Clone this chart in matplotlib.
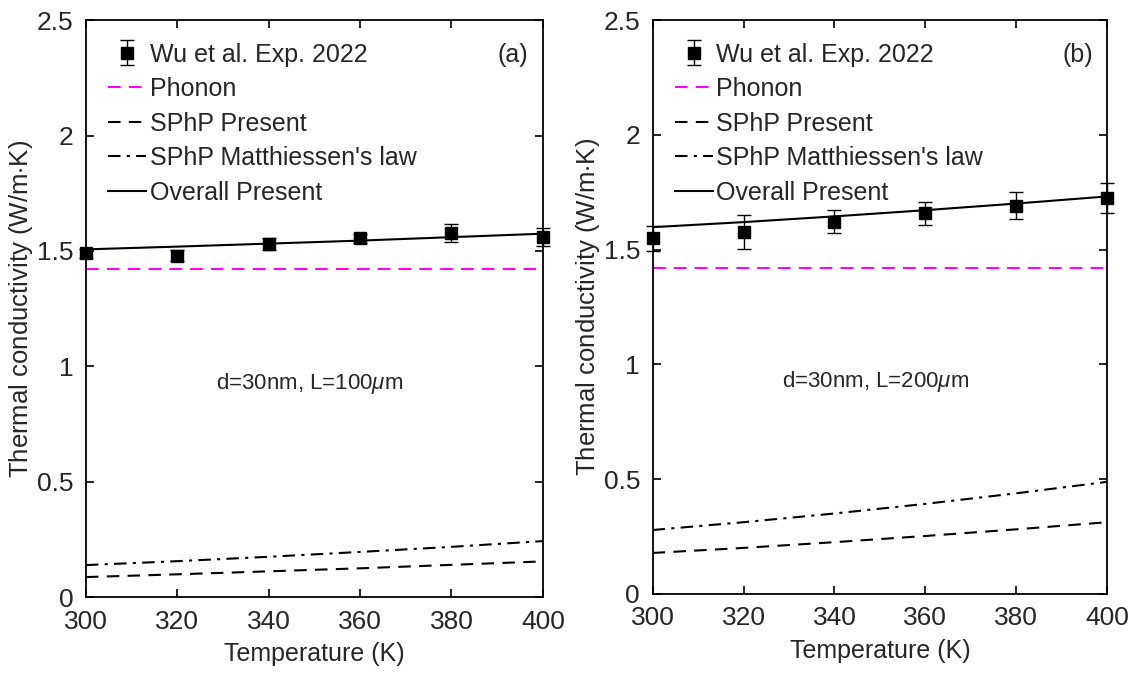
import matplotlib
matplotlib.use("Agg")
import matplotlib.pyplot as plt

plt.rcParams['font.family'] = ['Liberation Sans', 'DejaVu Sans']
plt.rcParams['mathtext.fontset'] = 'custom'
plt.rcParams['mathtext.it'] = 'Liberation Sans:italic'
plt.rcParams['mathtext.rm'] = 'Liberation Sans'

# temperature grid (K)
T = [300, 320, 340, 360, 380, 400]

# (a) d=30nm, L=100um
exp_a = [1.49, 1.48, 1.53, 1.555, 1.577, 1.56]
err_a = [0.02, 0.025, 0.025, 0.02, 0.04, 0.04]
phonon_a = [1.42] * 6
sphp_a = [0.087, 0.099, 0.112, 0.125, 0.140, 0.155]
matth_a = [0.139, 0.156, 0.175, 0.196, 0.218, 0.243]
overall_a = [1.507, 1.519, 1.532, 1.545, 1.560, 1.575]

# (b) d=30nm, L=200um
exp_b = [1.55, 1.577, 1.622, 1.659, 1.692, 1.725]
err_b = [0.055, 0.072, 0.05, 0.05, 0.06, 0.065]
phonon_b = [1.42] * 6
sphp_b = [0.178, 0.200, 0.225, 0.252, 0.281, 0.312]
matth_b = [0.278, 0.312, 0.350, 0.392, 0.438, 0.488]
overall_b = [1.598, 1.620, 1.645, 1.672, 1.701, 1.732]

txt = '#262626'

fig = plt.figure(figsize=(11.31, 6.74), dpi=100)
ax1 = fig.add_axes([0.076, 0.114, 0.404, 0.856])
ax2 = fig.add_axes([0.577, 0.119, 0.402, 0.851])

panels = [
    (ax1, exp_a, err_a, phonon_a, sphp_a, matth_a, overall_a, '(a)', r'd=30nm, L=100$\mu$m'),
    (ax2, exp_b, err_b, phonon_b, sphp_b, matth_b, overall_b, '(b)', r'd=30nm, L=200$\mu$m'),
]

for ax, ex, er, ph, sp, mt, ov, tag, note in panels:
    eb = ax.errorbar(T, ex, yerr=er, fmt='s', color='k', ms=9, capsize=5,
                     elinewidth=1, capthick=1, label='Wu et al. Exp. 2022',
                     zorder=5, clip_on=False)
    for art in eb.lines[1] + eb.lines[2]:
        art.set_clip_on(False)
    ax.plot(T, ph, color='magenta', ls=(0, (6, 4)), lw=1.5, label='Phonon')
    ax.plot(T, sp, color='k', ls=(0, (6, 4)), lw=1.5, label='SPhP Present')
    ax.plot(T, mt, color='k', ls=(0, (6, 3, 1.5, 3)), lw=1.5, label="SPhP Matthiessen's law")
    ax.plot(T, ov, color='k', ls='-', lw=1.5, label='Overall Present')

    ax.set_xlim(300, 400)
    ax.set_ylim(0, 2.5)
    ax.set_xticks([300, 320, 340, 360, 380, 400])
    ax.set_yticks([0, 0.5, 1, 1.5, 2, 2.5])
    ax.set_yticklabels(['0', '0.5', '1', '1.5', '2', '2.5'])
    ax.tick_params(direction='in', top=True, right=True, labelsize=19,
                   length=6, width=1.2, pad=9, labelcolor=txt)
    for s in ax.spines.values():
        s.set_linewidth(1.3)
    ax.set_xlabel('Temperature (K)', fontsize=18, color=txt, labelpad=6)
    ax.set_ylabel('Thermal conductivity (W/m$\\cdot$K)', fontsize=18.5, color=txt,
                  labelpad=1)

    handles, labels = ax.get_legend_handles_labels()
    order = [labels.index('Wu et al. Exp. 2022'), labels.index('Phonon'),
             labels.index('SPhP Present'), labels.index("SPhP Matthiessen's law"),
             labels.index('Overall Present')]
    leg = ax.legend([handles[i] for i in order], [labels[i] for i in order],
                    loc='upper left', frameon=False, fontsize=18,
                    handlelength=1.5, handletextpad=0.15, labelspacing=0.42,
                    borderaxespad=0.6, borderpad=0.3)
    for t in leg.get_texts():
        t.set_color(txt)
    ax.text(0.935, 0.94, tag, transform=ax.transAxes, fontsize=18,
            ha='center', va='center', color=txt)
    ax.text(0.49, 0.37, note, transform=ax.transAxes, fontsize=16,
            ha='center', va='center', color=txt)

fig.savefig('out.png', dpi=100)
